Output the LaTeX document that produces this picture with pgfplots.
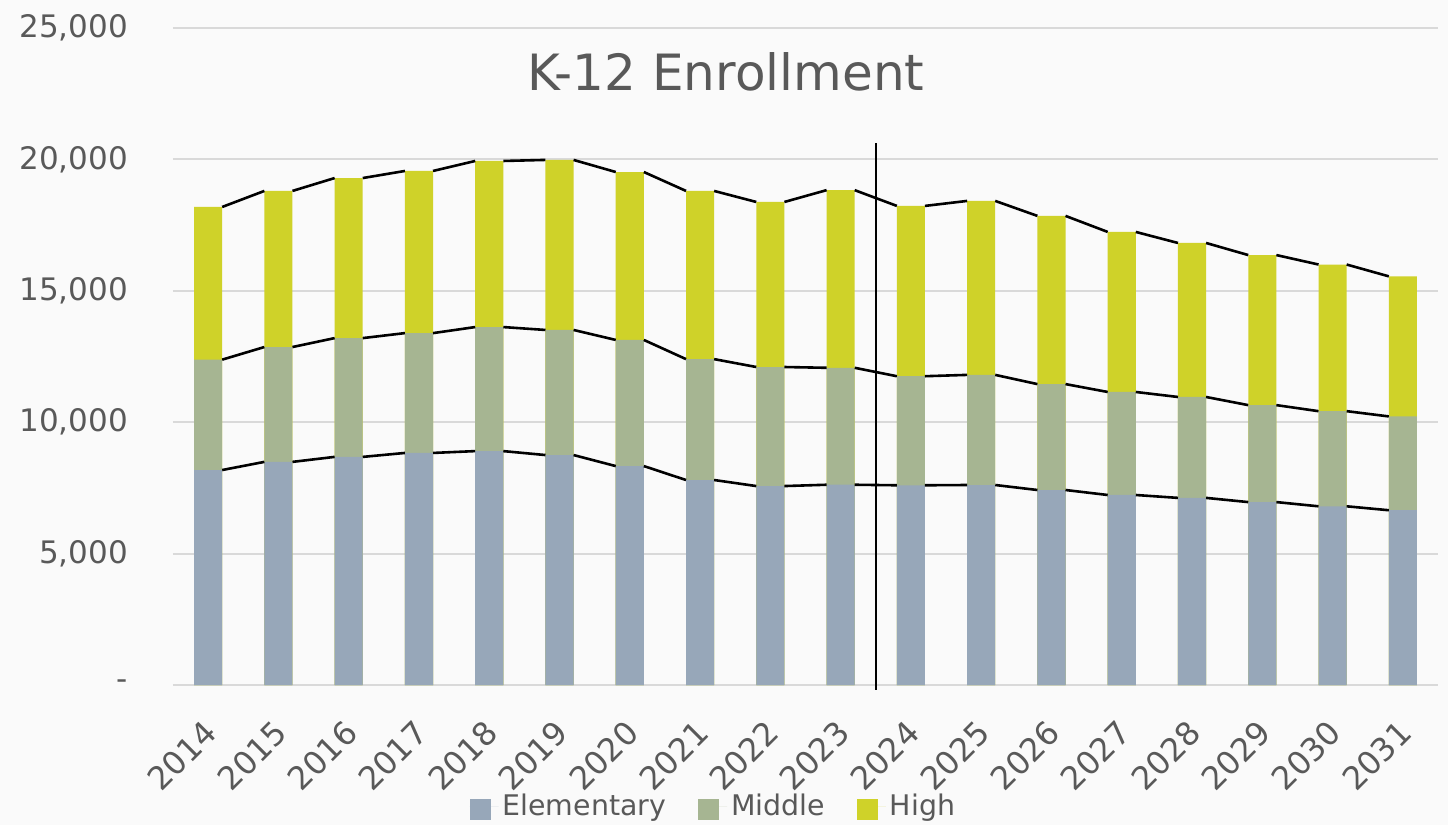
\documentclass[border=0pt]{standalone}
\usepackage{pgfplots}
\pgfplotsset{compat=1.18}
\usepackage{pgfplotstable}
\usepackage{fontspec}
\setmainfont{DejaVu Sans}
\definecolor{bg}{HTML}{FAFAFA}
\definecolor{txt}{HTML}{595959}
\definecolor{gridc}{HTML}{D9D9D9}
\definecolor{elem}{HTML}{97A7B9}
\definecolor{mid}{HTML}{A6B592}
\definecolor{high}{HTML}{CFD229}

% cumulative tops: E = Elementary, M = Elementary+Middle, H = total
\pgfplotstableread{
x year E M H
0 2014 8180 12380 18190
1 2015 8490 12860 18800
2 2016 8680 13200 19290
3 2017 8830 13390 19560
4 2018 8900 13620 19940
5 2019 8750 13510 19980
6 2020 8330 13130 19520
7 2021 7800 12400 18800
8 2022 7570 12100 18380
9 2023 7620 12070 18830
10 2024 7600 11750 18230
11 2025 7610 11800 18420
12 2026 7420 11450 17850
13 2027 7230 11150 17240
14 2028 7120 10960 16820
15 2029 6960 10650 16360
16 2030 6800 10420 16000
17 2031 6650 10220 15550
}\enrol

\begin{document}
\begin{tikzpicture}
\useasboundingbox (-86.5pt,-70pt) rectangle (637.5pt,342.5pt);
\fill[bg] (-86.5pt,-70pt) rectangle (637.5pt,342.5pt);
\begin{axis}[
  at={(0,0)}, anchor=south west, scale only axis,
  width=632.5pt, height=328.5pt,
  xmin=-0.5, xmax=17.5, ymin=0, ymax=25000,
  scaled y ticks=false,
  axis line style={draw=none}, tick style={draw=none},
  ymajorgrids, grid style={gridc, line width=0.9pt},
  ytick={0,5000,10000,15000,20000,25000},
  yticklabels={-,{5,000},{10,000},{15,000},{20,000},{25,000}},
  xtick={0,...,17},
  xticklabels={2014,2015,2016,2017,2018,2019,2020,2021,2022,2023,2024,2025,2026,2027,2028,2029,2030,2031},
  ticklabel style={text=txt},
  yticklabel style={font=\fontsize{15.5}{17}\selectfont, anchor=east, xshift=-19pt},
  xticklabel style={font=\fontsize{16}{18}\selectfont, yshift=-16.5pt, xshift=-3pt, rotate=45, anchor=north east, inner sep=0pt},
  clip=false,
  legend style={at={(0.428,-0.185)}, anchor=center, draw=none, fill=none,
    legend columns=-1, font=\fontsize{14.2}{16}\selectfont, text=txt,
    /tikz/every even column/.append style={column sep=14pt}},
  legend image code/.code={\fill[#1] (0pt,-6.5pt) rectangle (10.5pt,4pt); \path (0pt,0pt) -- (14.5pt,0pt);},
]
\addlegendimage{fill=elem, draw=none}
\addlegendentry{Elementary}
\addlegendimage{fill=mid, draw=none}
\addlegendentry{Middle}
\addlegendimage{fill=high, draw=none}
\addlegendentry{High}

\addplot[ybar, bar width=0.4, bar shift=0pt, fill=high, draw=none, forget plot] table[x=x, y=H]{\enrol};
\addplot[ybar, bar width=0.4, bar shift=0pt, fill=mid, draw=none, forget plot] table[x=x, y=M]{\enrol};
\addplot[ybar, bar width=0.4, bar shift=0pt, fill=elem, draw=none, forget plot] table[x=x, y=E]{\enrol};

% series lines (top-right corner of one bar to top-left corner of the next)
\addplot[black, line width=1.3pt, unbounded coords=jump, forget plot] coordinates {
(0.2,8180)(0.8,8490)(1,nan)(1.2,8490)(1.8,8680)(2,nan)(2.2,8680)(2.8,8830)(3,nan)
(3.2,8830)(3.8,8900)(4,nan)(4.2,8900)(4.8,8750)(5,nan)(5.2,8750)(5.8,8330)(6,nan)
(6.2,8330)(6.8,7800)(7,nan)(7.2,7800)(7.8,7570)(8,nan)(8.2,7570)(8.8,7620)(9,nan)
(9.2,7620)(9.8,7600)(10,nan)(10.2,7600)(10.8,7610)(11,nan)(11.2,7610)(11.8,7420)(12,nan)
(12.2,7420)(12.8,7230)(13,nan)(13.2,7230)(13.8,7120)(14,nan)(14.2,7120)(14.8,6960)(15,nan)
(15.2,6960)(15.8,6800)(16,nan)(16.2,6800)(16.8,6650)};
\addplot[black, line width=1.3pt, unbounded coords=jump, forget plot] coordinates {
(0.2,12380)(0.8,12860)(1,nan)(1.2,12860)(1.8,13200)(2,nan)(2.2,13200)(2.8,13390)(3,nan)
(3.2,13390)(3.8,13620)(4,nan)(4.2,13620)(4.8,13510)(5,nan)(5.2,13510)(5.8,13130)(6,nan)
(6.2,13130)(6.8,12400)(7,nan)(7.2,12400)(7.8,12100)(8,nan)(8.2,12100)(8.8,12070)(9,nan)
(9.2,12070)(9.8,11750)(10,nan)(10.2,11750)(10.8,11800)(11,nan)(11.2,11800)(11.8,11450)(12,nan)
(12.2,11450)(12.8,11150)(13,nan)(13.2,11150)(13.8,10960)(14,nan)(14.2,10960)(14.8,10650)(15,nan)
(15.2,10650)(15.8,10420)(16,nan)(16.2,10420)(16.8,10220)};
\addplot[black, line width=1.3pt, unbounded coords=jump, forget plot] coordinates {
(0.2,18190)(0.8,18800)(1,nan)(1.2,18800)(1.8,19290)(2,nan)(2.2,19290)(2.8,19560)(3,nan)
(3.2,19560)(3.8,19940)(4,nan)(4.2,19940)(4.8,19980)(5,nan)(5.2,19980)(5.8,19520)(6,nan)
(6.2,19520)(6.8,18800)(7,nan)(7.2,18800)(7.8,18380)(8,nan)(8.2,18380)(8.8,18830)(9,nan)
(9.2,18830)(9.8,18230)(10,nan)(10.2,18230)(10.8,18420)(11,nan)(11.2,18420)(11.8,17850)(12,nan)
(12.2,17850)(12.8,17240)(13,nan)(13.2,17240)(13.8,16820)(14,nan)(14.2,16820)(14.8,16360)(15,nan)
(15.2,16360)(15.8,16000)(16,nan)(16.2,16000)(16.8,15550)};

\draw[black, line width=1.2pt] (axis cs:9.5,-190) -- (axis cs:9.5,20640);
\node[font=\fontsize{25}{28}\selectfont, text=txt] at (rel axis cs:0.437,0.933) {K-12 Enrollment};
\end{axis}
\end{tikzpicture}
\end{document}
